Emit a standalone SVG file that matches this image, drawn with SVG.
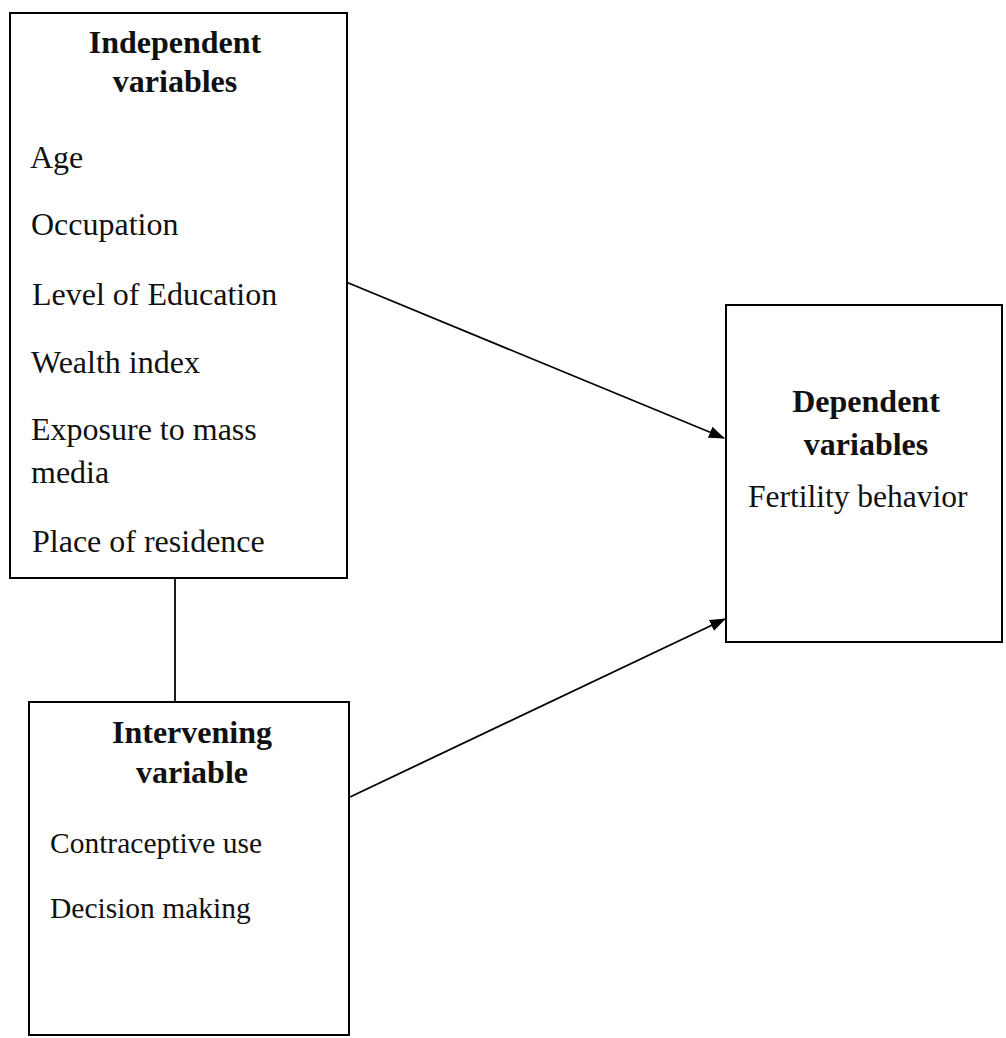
<svg xmlns="http://www.w3.org/2000/svg" width="1006" height="1038" viewBox="0 0 1006 1038">
<style>
.box{fill:#fff;stroke:#000;stroke-width:2}
.t{font-family:"Liberation Serif","Times New Roman",serif;font-size:32px;fill:#111}
.h{font-weight:bold;text-anchor:middle}
.s{font-size:29.5px}
.d{font-size:31.5px}
.c{stroke:#000;stroke-width:1.8;fill:none}
</style>
<defs>
<marker id="ah" markerWidth="16" markerHeight="12" refX="15" refY="6" orient="auto" markerUnits="userSpaceOnUse">
<path d="M0,0 L16,6 L0,12 Z" fill="#000"/>
</marker>
</defs>
<rect width="1006" height="1038" fill="#fff"/>
<g id="connectors">
<line class="c" x1="175" y1="578" x2="175" y2="702"/>
<line class="c" x1="346" y1="282" x2="724" y2="438" marker-end="url(#ah)"/>
<line class="c" x1="350" y1="797" x2="725" y2="619" marker-end="url(#ah)"/>
</g>
<g id="independent">
<rect class="box" x="10" y="13" width="337" height="565"/>
<text class="t h" x="175" y="53">Independent</text>
<text class="t h" x="175" y="92">variables</text>
<text class="t" x="30" y="168">Age</text>
<text class="t" x="31" y="235">Occupation</text>
<text class="t" x="32" y="305">Level of Education</text>
<text class="t" x="31" y="373">Wealth index</text>
<text class="t" x="31" y="440">Exposure to mass</text>
<text class="t" x="31" y="483">media</text>
<text class="t" x="32" y="552">Place of residence</text>
</g>
<g id="intervening">
<rect class="box" x="29" y="702" width="320" height="333"/>
<text class="t h" x="192" y="743">Intervening</text>
<text class="t h" x="192" y="783">variable</text>
<text class="t s" x="50" y="853">Contraceptive use</text>
<text class="t s" x="50" y="918">Decision making</text>
</g>
<g id="dependent">
<rect class="box" x="726" y="305" width="276" height="337"/>
<text class="t h" x="866" y="412">Dependent</text>
<text class="t h" x="866" y="455">variables</text>
<text class="t d" x="748" y="507">Fertility behavior</text>
</g>
</svg>
